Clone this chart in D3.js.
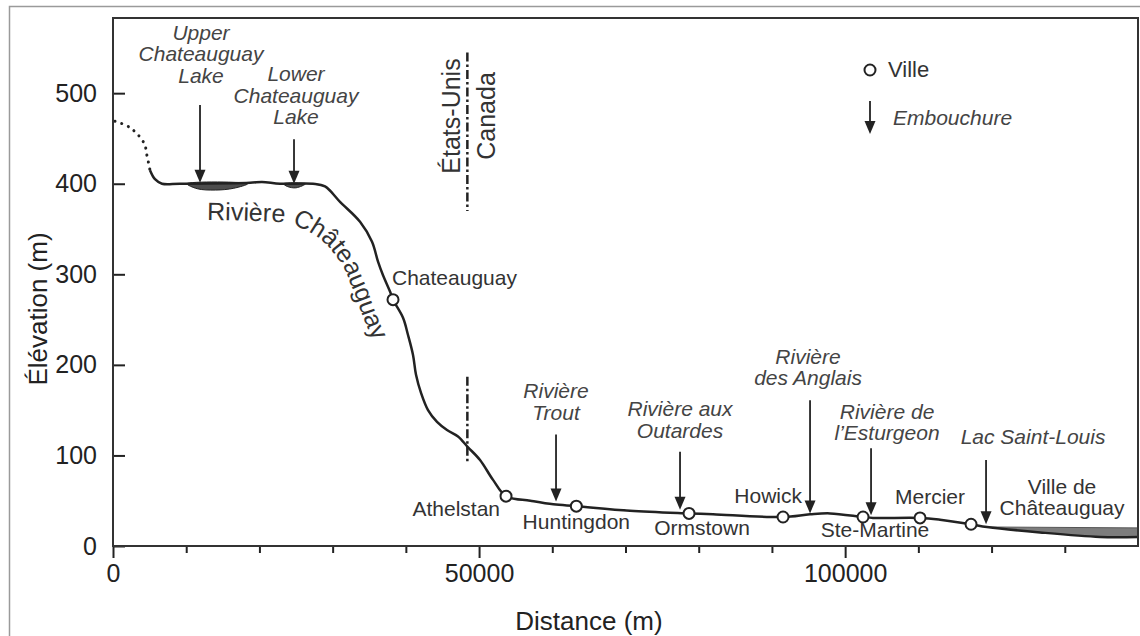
<!DOCTYPE html>
<html>
<head>
<meta charset="utf-8">
<script src="https://cdn.jsdelivr.net/npm/d3@7"></script>
<style>
  body { margin: 0; background: #fff; }
  text { font-family: "Liberation Sans", Arial, sans-serif; }
</style>
</head>
<body>
<svg id="chart" width="1140" height="636"></svg>
<script>

// ---- data (distance in m, elevation in m)
var profile = [
  [5054,415],[5737,405],[6693,400],[9152,400],[18713,401],[20352,402],[22811,400],
  [27318,400],[28958,397],[31007,380],[33739,358],[35378,336],[36197,314],[36880,299],
  [37836,281],[38246,272],[39612,252],[40295,233],[40978,211],[41388,189],[42071,169],
  [43027,150],[44256,137],[45622,128],[47125,121],[48491,109],[50130,95],[51906,73],
  [53681,55],[57000,50],[60142,46],[63284,44],[70619,39],[78678,36],[81956,35],
  [91518,32],[95206,35],[97938,36],[102445,32],[103811,31],[110231,31],[112963,29],
  [117197,24],[119383,21],[126622,15],[134818,10],[140000,10]
];
// upstream part, drawn dotted
var upstream = [[273,469],[2322,462],[4234,445],[4644,431],[5054,415]];

var upperLake = [[10100,400],[18400,400],[16500,395],[14000,393],[11500,394.5]];
var lowerLake = [[23300,400],[26300,400],[25000,395.5],[23800,397]];
var lacSurface = [[119383,21],[140000,20]];
var lacBed = [[119383,21],[126622,15],[134818,10],[140000,10]];

var cityNames = ["Chateauguay","Athelstan","Huntingdon","Ormstown","Howick","Ste-Martine","Mercier",["Ville de","Châteauguay"]];
var cityDist = [38246,53681,63284,78678,91518,102445,110231,117197];
var cityElev = [272,55,44,36,32,32,31,24];

var mouthNames = [["Upper","Chateauguay","Lake"],["Lower","Chateauguay","Lake"],["Rivière","Trout"],
                  ["Rivière aux","Outardes"],["Rivière","des Anglais"],["Rivière de","l’Esturgeon"],["Lac Saint-Louis"]];
var mouthDist = [11884,24723,60511,77448,95206,103538,119246];
var mouthTop = [487,449,123,104,161,108,95];
var mouthTip = [401,400,49,40,36,34,24];

var borderDist = 48400;
var borderSegments = [[370,545],[93,187]];

// baseline for the curved river name
var riverLabelPath = [
  [12840,360],[18713,359],[24177,356],[25953,350],[27729,342],[29231,332],[30460,320],
  [31553,307],[32373,291],[33192,275],[33875,259],[34695,242],[35651,225],[36470,210]
];

var xMajor = [0,50000,100000];
var xMinor = [10000,20000,30000,40000,60000,70000,80000,90000,110000,120000,130000];
var yTicks = [0,100,200,300,400,500];

// ---- label layout (pixel offsets)
var cityLabelLayout = [
  {anchor:"start",dx:-1,dy:-15},{anchor:"end",dx:-6,dy:20},{anchor:"middle",dx:0,dy:23},
  {anchor:"middle",dx:13,dy:22},{anchor:"end",dx:19,dy:-14},{anchor:"middle",dx:12,dy:20},
  {anchor:"middle",dx:10,dy:-14},{anchor:"middle",dx:91,dy:-9}
];
var mouthLabelLayout = [
  {dx:1,gap:22},{dx:2,gap:15},{dx:0,gap:15},{dx:0,gap:14},{dx:-2,gap:15},{dx:16,gap:8},{dx:47,gap:16}
];

var svg = d3.select("#chart");
var x = d3.scaleLinear().domain([0,140000]).range([113,1138]);
var y = d3.scaleLinear().domain([0,583]).range([546,18]);
var ink = "#222";

//outer picture border
svg.append("rect")
   .attr("x",9.5).attr("y",6.5).attr("width",1140).attr("height",640)
   .attr("fill","none").attr("stroke","#9a9a9a").attr("stroke-width",1.5);

var curve = d3.line()
   .x(function(d){return x(d[0]);})
   .y(function(d){return y(d[1]);})
   .curve(d3.curveCatmullRom.alpha(0.5));

var closedCurve = d3.line()
   .x(function(d){return x(d[0]);})
   .y(function(d){return y(d[1]);})
   .curve(d3.curveCatmullRomClosed.alpha(0.5));

//lakes
svg.selectAll(".lake")
   .data([upperLake,lowerLake])
   .enter()
   .append("path")
   .attr("d",closedCurve)
   .attr("fill","#4d4d4d")
   .attr("stroke",ink)
   .attr("stroke-width",1);

//Lac Saint-Louis
var lacPoly = lacSurface.concat(lacBed.slice().reverse());
svg.append("path")
   .attr("d", d3.line().x(function(d){return x(d[0]);}).y(function(d){return y(d[1]);})(lacPoly) + "Z")
   .attr("fill","#7d7d7d");
svg.append("path")
   .attr("d", curve(lacSurface))
   .attr("fill","none").attr("stroke","#555").attr("stroke-width",1);

//profile
svg.append("path")
   .attr("d",curve(profile))
   .attr("fill","none")
   .attr("stroke",ink)
   .attr("stroke-width",2.5)
   .attr("stroke-linejoin","round");

svg.append("path")
   .attr("d",curve(upstream))
   .attr("fill","none")
   .attr("stroke",ink)
   .attr("stroke-width",3)
   .attr("stroke-linecap","round")
   .attr("stroke-dasharray","0.1,7");

//border line
svg.selectAll(".border")
   .data(borderSegments)
   .enter()
   .append("line")
   .attr("x1",x(borderDist)).attr("x2",x(borderDist))
   .attr("y1",function(d){return y(d[1]);})
   .attr("y2",function(d){return y(d[0]);})
   .attr("stroke",ink)
   .attr("stroke-width",2.5)
   .attr("stroke-dasharray","9,3,2.5,3");

svg.append("text")
   .attr("transform","translate(460,116) rotate(-90)")
   .attr("text-anchor","middle")
   .style("font-size","25px").style("fill","#333")
   .text("États-Unis");
svg.append("text")
   .attr("transform","translate(495,116) rotate(-90)")
   .attr("text-anchor","middle")
   .style("font-size","25px").style("fill","#333")
   .text("Canada");

//arrows for river mouths
function arrow(g, px, yTop, yTip) {
  g.append("line")
   .attr("x1",px).attr("x2",px)
   .attr("y1",yTop).attr("y2",yTip-10)
   .attr("stroke",ink).attr("stroke-width",1.8);
  g.append("path")
   .attr("d","M"+(px-5.5)+","+(yTip-13)+"L"+(px+5.5)+","+(yTip-13)+"L"+px+","+yTip+"Z")
   .attr("fill",ink);
}

mouthDist.forEach(function(d,i){
  var g = svg.append("g");
  var px = x(d), yTop = y(mouthTop[i]), yTip = y(mouthTip[i]);
  arrow(g, px, yTop, yTip);
  var lines = mouthNames[i];
  var lay = mouthLabelLayout[i];
  var t = g.append("text")
     .attr("text-anchor","middle")
     .style("font-size","21px").style("font-style","italic").style("fill","#444");
  lines.forEach(function(s,j){
    t.append("tspan")
     .attr("x",px+lay.dx)
     .attr("y",yTop-lay.gap-(lines.length-1-j)*21.5)
     .text(s);
  });
});

//cities
svg.selectAll(".city")
   .data(cityDist)
   .enter()
   .append("circle")
   .attr("cx",function(d){return x(d);})
   .attr("cy",function(d,i){return y(cityElev[i]);})
   .attr("r",5.5)
   .attr("fill","#fff")
   .attr("stroke",ink)
   .attr("stroke-width",2);

cityNames.forEach(function(name,i){
  var lay = cityLabelLayout[i];
  var cx = x(cityDist[i]), cy = y(cityElev[i]);
  var lines = Array.isArray(name) ? name : [name];
  var t = svg.append("text")
     .attr("text-anchor",lay.anchor)
     .style("font-size","21px").style("fill","#333");
  lines.forEach(function(s,j){
    t.append("tspan")
     .attr("x",cx+lay.dx)
     .attr("y",cy+lay.dy-(lines.length-1-j)*21.5)
     .text(s);
  });
});

//curved river name
svg.append("defs").append("path")
   .attr("id","riverPath")
   .attr("d",curve(riverLabelPath));
svg.append("text")
   .style("font-size","25px").style("fill","#333")
   .append("textPath")
   .attr("href","#riverPath")
   .text("Rivière Châteauguay");

//legend
svg.append("circle").attr("cx",870).attr("cy",70).attr("r",5.5)
   .attr("fill","#fff").attr("stroke",ink).attr("stroke-width",2);
svg.append("text").attr("x",888).attr("y",77)
   .style("font-size","22px").style("fill","#333").text("Ville");
arrow(svg.append("g"), 870, 101, 134);
svg.append("text").attr("x",893).attr("y",125)
   .style("font-size","21px").style("font-style","italic").style("fill","#444").text("Embouchure");

//axes
var yAxis = svg.append("g")
   .attr("transform","translate(113,0)")
   .call(d3.axisLeft(y).tickValues(yTicks).tickSizeInner(-12).tickSizeOuter(0).tickPadding(16));
var xAxis = svg.append("g")
   .attr("transform","translate(0,546)")
   .call(d3.axisBottom(x).tickValues(xMajor).tickSize(12).tickPadding(6).tickFormat(d3.format("d")));
var xMinorAxis = svg.append("g")
   .attr("transform","translate(0,546)")
   .call(d3.axisBottom(x).tickValues(xMinor).tickSize(7).tickFormat(""));

[yAxis,xAxis,xMinorAxis].forEach(function(a){
  a.select(".domain").remove();
  a.selectAll("line").attr("stroke",ink).attr("stroke-width",2);
  a.selectAll("text").style("font-size","25px").style("fill","#222")
   .style("font-family","'Liberation Sans', Arial, sans-serif");
});

//frame
svg.append("rect")
   .attr("x",113).attr("y",18).attr("width",1025).attr("height",528)
   .attr("fill","none").attr("stroke","#333").attr("stroke-width",2);

//axis titles
svg.append("text")
   .attr("x",589).attr("y",630)
   .attr("text-anchor","middle")
   .style("font-size","26px").style("fill","#222")
   .text("Distance (m)");
svg.append("text")
   .attr("transform","translate(47,309) rotate(-90)")
   .attr("text-anchor","middle")
   .style("font-size","26px").style("fill","#222")
   .text("Élévation (m)");

</script>
</body>
</html>
